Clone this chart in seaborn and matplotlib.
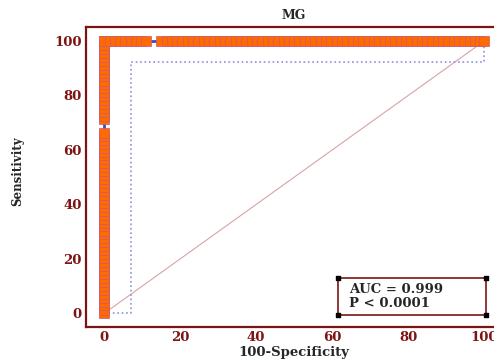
import matplotlib
matplotlib.use("Agg")
import numpy as np
import pandas as pd
from matplotlib import pyplot as plt
from matplotlib.patches import Rectangle
from matplotlib.ticker import MultipleLocator
import seaborn as sns

sns.set_style("white")
plt.rcParams["font.family"] = ["DejaVu Serif"]

# ROC points: vertical run at 100-Specificity = 0, then the run along Sensitivity = 100
column_sens = [0, 1.4, 2.9, 4.3, 5.8, 7.2, 8.7, 10.1, 11.6, 13.0, 14.5, 15.9, 17.4,
               18.8, 20.3, 21.7, 23.2, 24.6, 26.1, 27.5, 29.0, 30.4, 31.9, 33.3,
               34.8, 36.2, 37.7, 39.1, 40.6, 42.0, 43.5, 44.9, 46.4, 47.8, 49.3,
               50.7, 52.2, 53.6, 55.1, 56.5, 58.0, 59.4, 60.9, 62.3, 63.8, 65.2,
               66.4, 71.3, 72.5, 73.9, 75.4, 76.8, 78.3, 79.7, 81.2, 82.6, 84.1,
               85.5, 87.0, 88.4, 89.9, 91.3, 92.8, 94.2, 95.7, 97.1, 98.6, 100]
row_fpr = [0, 1.4, 2.8, 4.2, 5.6, 7.0, 8.4, 9.8, 11.0, 15.0, 16.4, 17.8,
           19.2, 20.6, 22.0, 23.4, 24.8, 26.2, 27.6, 29.0, 30.4, 31.8, 33.2,
           34.6, 36.0, 37.4, 38.8, 40.2, 41.6, 43.0, 44.4, 45.8, 47.2, 48.6,
           50.0, 51.4, 52.8, 54.2, 55.6, 57.0, 58.4, 59.8, 61.2, 62.6, 64.0,
           65.4, 66.8, 68.2, 69.6, 71.0, 72.4, 73.8, 75.2, 76.6, 78.0, 79.4,
           80.8, 82.2, 83.6, 85.0, 86.4, 87.8, 89.2, 90.6, 92.0, 93.4, 94.8,
           96.2, 97.6, 99.0, 100]

ci_x = [0, 7.1, 7.1, 100, 100]
ci_y = [0, 0, 92.3, 92.3, 100]
diag_x = [0, 100]
diag_y = [0, 100]

auc_text = "AUC = 0.999\nP < 0.0001"
title = "MG"

roc = pd.DataFrame({
    "fpr": [0] * len(column_sens) + row_fpr,
    "sens": column_sens + [100] * len(row_fpr),
})

dark_red = "#7d1414"

fig = plt.figure(figsize=(4.94, 3.62), dpi=100)
ax = fig.add_axes([0.174, 0.0967, 0.843, 0.8276])

ax.plot(diag_x, diag_y, color="#d9a3a3", lw=0.8, zorder=1)
ax.plot(ci_x, ci_y, color="#8f8fe0", lw=1.2, ls=":", zorder=2)
sns.lineplot(data=roc, x="fpr", y="sens", sort=False, estimator=None,
             color="#4848b4", lw=2, ax=ax, zorder=3)
sns.scatterplot(data=roc, x="fpr", y="sens", marker="s", s=56, color="#ff6a00",
                edgecolor="#c85a78", linewidth=0.5, ax=ax, zorder=4)

ax.set_xlim(-4.8, 104.8)
ax.set_ylim(-5, 105)
ax.xaxis.set_major_locator(MultipleLocator(20))
ax.yaxis.set_major_locator(MultipleLocator(20))
ax.xaxis.set_minor_locator(MultipleLocator(5))
ax.yaxis.set_minor_locator(MultipleLocator(5))
ax.tick_params(which="major", direction="in", length=10, width=2, color=dark_red,
               labelcolor=dark_red, labelsize=9.5, pad=3)
ax.tick_params(which="minor", direction="in", length=6, width=1, color="#d89a9a")
for lab in ax.get_xticklabels() + ax.get_yticklabels():
    lab.set_fontweight("bold")

for side in ["left", "bottom", "top"]:
    ax.spines[side].set_color(dark_red)
    ax.spines[side].set_linewidth(1.6)
ax.spines["right"].set_visible(False)

ax.set_title(title, fontsize=9, fontweight="bold", pad=6)
ax.set_xlabel("100-Specificity", fontsize=9.5, fontweight="bold", labelpad=1)
ax.set_ylabel("Sensitivity", fontsize=8.5, fontweight="bold")
ax.yaxis.set_label_coords(-0.148, 0.52)

# AUC box with corner handles
bx0, by0, bx1, by1 = 0.605, 0.04, 0.96, 0.164
ax.add_patch(Rectangle((bx0, by0), bx1 - bx0, by1 - by0, transform=ax.transAxes,
                       fill=False, edgecolor=dark_red, lw=1.2, zorder=5))
ax.scatter([bx0, bx1, bx0, bx1], [by0, by0, by1, by1], transform=ax.transAxes,
           marker="s", s=6, color="black", zorder=6, clip_on=False)
ax.text(0.632, 0.102, auc_text, transform=ax.transAxes, fontsize=9.5,
        fontweight="bold", va="center", ha="left", linespacing=1.1, zorder=6)

fig.savefig("out.png", dpi=100)
plt.close(fig)
